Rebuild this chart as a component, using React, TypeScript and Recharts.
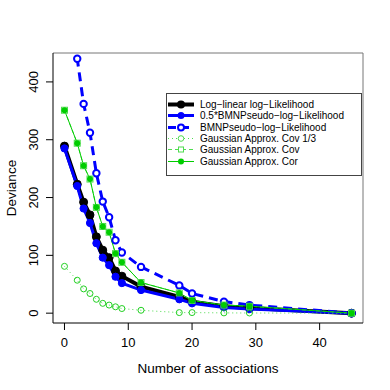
import React from 'react';
import { LineChart, Line, XAxis, YAxis, ReferenceLine } from 'recharts';

// number of associations (shared x for every series)
const associations = [0, 2, 3, 4, 5, 6, 7, 8, 9, 12, 18, 20, 25, 29, 45];

const logLinear = [289, 223, 192, 170, 132, 109, 96, 73, 64, 46, 28, 20, 12, 9, 0];
const halfBmnp = [285, 220, 181, 156, 121, 96, 83, 63, 52, 40, 24, 17, 10, 7, 0];
const bmnp = [570, 440, 362, 312, 242, 193, 166, 126, 105, 80, 48, 34, 20, 14, 0];
const gaussCov3 = [81, 57, 42, 34, 24, 17, 14, 11, 8, 5, 1, 1, 0.5, 0.3, 0];
const gaussCov = [351, 294, 255, 232, 183, 150, 140, 103, 88, 53, 35, 22, 14, 12, 0];
const gaussCor = [351, 294, 255, 232, 183, 150, 140, 103, 88, 53, 35, 22, 14, 12, 0];

const xTicks = [0, 10, 20, 30, 40];
const yTicks = [0, 100, 200, 300, 400];

const FONT = '"Liberation Sans", Arial, Helvetica, sans-serif';
const GREEN = '#00cd00';
const LIGHT_GREEN = '#4fdc4f';

const data = associations.map((x, i) => ({
  x,
  logLinear: logLinear[i],
  halfBmnp: halfBmnp[i],
  bmnp: bmnp[i],
  gaussCov3: gaussCov3[i],
  gaussCov: gaussCov[i],
  gaussCor: gaussCor[i],
}));

const legendItems = [
  { label: 'Log−linear log−Likelihood', color: '#000', width: 4, dash: undefined, marker: 'disc', size: 4 },
  { label: '0.5*BMNPseudo−log−Likelihood', color: '#0000ff', width: 3, dash: undefined, marker: 'disc', size: 3.5 },
  { label: 'BMNPseudo−log−Likelihood', color: '#0000ff', width: 3, dash: '8 5', marker: 'ring', size: 3 },
  { label: 'Gaussian Approx. Cov 1/3', color: LIGHT_GREEN, width: 1, dash: '1 3', marker: 'ring', size: 2.8 },
  { label: 'Gaussian Approx. Cov', color: LIGHT_GREEN, width: 1, dash: '4 3', marker: 'square', size: 3 },
  { label: 'Gaussian Approx. Cor', color: GREEN, width: 1, dash: undefined, marker: 'disc', size: 3 },
];

function SquareDot(props: any) {
  const { cx, cy, index } = props;
  if (cx == null || cy == null) return <g key={`sq-${index}`} />;
  return (
    <rect key={`sq-${index}`} x={cx - 3} y={cy - 3} width={6} height={6}
      fill="none" stroke={LIGHT_GREEN} strokeWidth={1} />
  );
}

function XTick(props: any) {
  const { x, y, payload } = props;
  return (
    <text x={x} y={y + 15} textAnchor="middle" fontSize={13} fontFamily={FONT} fill="#000">
      {payload.value}
    </text>
  );
}

function YTick(props: any) {
  const { x, y, payload } = props;
  const bx = x - 5.5;
  return (
    <text x={bx} y={y} transform={`rotate(-90, ${bx}, ${y})`} textAnchor="middle"
      fontSize={13} fontFamily={FONT} fill="#000">
      {payload.value}
    </text>
  );
}

function LegendBox() {
  return (
    <div style={{
      position: 'absolute', left: 166, top: 93, width: 196, height: 83,
      border: '1px solid #444', background: '#fff', fontFamily: FONT, fontSize: 10,
      boxSizing: 'border-box', paddingTop: 5,
    }}>
      {legendItems.map(it => (
        <div key={it.label} style={{ display: 'flex', alignItems: 'center', height: 11.3 }}>
          <svg width={33} height={11} style={{ flex: 'none' }}>
            <line x1={1} x2={27} y1={5.5} y2={5.5} stroke={it.color}
              strokeWidth={it.width} strokeDasharray={it.dash} />
            {it.marker === 'disc' && <circle cx={14} cy={5.5} r={it.size} fill={it.color} />}
            {it.marker === 'ring' && (
              <circle cx={14} cy={5.5} r={it.size} fill="#fff" stroke={it.color} strokeWidth={it.width > 1 ? 2 : 1} />
            )}
            {it.marker === 'square' && (
              <rect x={11.5} y={3} width={5} height={5} fill="#fff" stroke={it.color} />
            )}
          </svg>
          <span style={{ whiteSpace: 'nowrap', color: '#000' }}>{it.label}</span>
        </div>
      ))}
    </div>
  );
}

export default function App() {
  return (
    <div style={{ position: 'fixed', left: 0, top: 0, width: 390, height: 390, background: '#fff' }}>
      <LineChart width={390} height={390} data={data}
        margin={{ top: 53, right: 27, left: 0, bottom: 0 }}>
        <XAxis dataKey="x" type="number" domain={[-1.8, 46.8]} ticks={xTicks}
          allowDataOverflow tick={<XTick />} tickSize={7} height={67}
          axisLine={{ stroke: '#000' }} tickLine={{ stroke: '#000' }}
          label={{ value: 'Number of associations', position: 'insideBottom', offset: 17,
            fontSize: 13.5, fontFamily: FONT, fill: '#000' }} />
        <YAxis type="number" domain={[-17, 450]} ticks={yTicks} allowDataOverflow
          tick={<YTick />} tickSize={7} width={53}
          axisLine={{ stroke: '#000' }} tickLine={{ stroke: '#000' }}
          label={{ value: 'Deviance', angle: -90, position: 'insideLeft', offset: 11,
            fontSize: 13.5, fontFamily: FONT, fill: '#000', style: { textAnchor: 'middle' } }} />
        <ReferenceLine y={450} stroke="#777" />
        <ReferenceLine x={46.8} stroke="#777" />

        <Line dataKey="logLinear" stroke="#000" strokeWidth={4}
          dot={{ r: 4, fill: '#000', stroke: '#000', strokeWidth: 1 }} isAnimationActive={false} />
        <Line dataKey="halfBmnp" stroke="#0000ff" strokeWidth={3}
          dot={{ r: 3.6, fill: '#0000ff', stroke: '#0000ff', strokeWidth: 1 }} isAnimationActive={false} />
        <Line dataKey="bmnp" stroke="#0000ff" strokeWidth={3} strokeDasharray="9 6"
          dot={{ r: 3.2, fill: '#fff', stroke: '#0000ff', strokeWidth: 2, strokeDasharray: 'none' }}
          isAnimationActive={false} />
        <Line dataKey="gaussCov3" stroke={LIGHT_GREEN} strokeWidth={1} strokeDasharray="1 3"
          dot={{ r: 3, fill: 'none', stroke: '#22d022', strokeWidth: 1, strokeDasharray: 'none' }}
          isAnimationActive={false} />
        <Line dataKey="gaussCov" stroke={LIGHT_GREEN} strokeWidth={1} strokeDasharray="4 3"
          dot={<SquareDot />} isAnimationActive={false} />
        <Line dataKey="gaussCor" stroke={GREEN} strokeWidth={1}
          dot={{ r: 3, fill: GREEN, stroke: GREEN, strokeWidth: 0 }} isAnimationActive={false} />
      </LineChart>
      <LegendBox />
    </div>
  );
}
